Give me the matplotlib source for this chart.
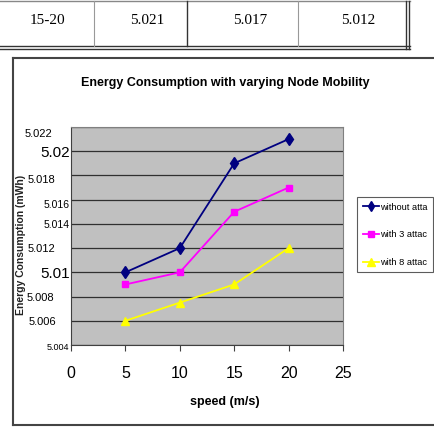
import matplotlib
matplotlib.use("Agg")
import matplotlib.pyplot as plt
from matplotlib.lines import Line2D
from matplotlib.transforms import ScaledTranslation
from matplotlib import font_manager

names = {f.name for f in font_manager.fontManager.ttflist}
NARROW = ['Liberation Sans Narrow', 'Liberation Sans', 'DejaVu Sans'] if 'Liberation Sans Narrow' in names else ['Liberation Sans', 'DejaVu Sans']
SERIF = ['Liberation Serif', 'DejaVu Serif']

# ---- data ----
speeds = [5, 10, 15, 20]
without_attack = [5.010, 5.012, 5.019, 5.021]
with_3_attack = [5.009, 5.010, 5.015, 5.017]
with_8_attack = [5.006, 5.0075, 5.009, 5.012]
series_labels = ["without atta", "with 3 attac", "with 8 attac"]
table_row = ["15-20", "5.021", "5.017", "5.012"]
x_ticks = [0, 5, 10, 15, 20, 25]
y_ticks = [5.004, 5.006, 5.008, 5.010, 5.012, 5.014, 5.016, 5.018, 5.020, 5.022]
y_tick_labels = ["5.004", "5.006", "5.008", "5.01", "5.012", "5.014", "5.016", "5.018", "5.02", "5.022"]

W, H = 434, 428
fig = plt.figure(figsize=(W / 100, H / 100), dpi=100)
fig.patch.set_facecolor('white')

def fx(x): return x / W
def fy(y): return 1 - y / H

def hline(x0, x1, y, lw=1.0, c='#555555'):
    fig.add_artist(Line2D([fx(x0), fx(x1)], [fy(y), fy(y)], transform=fig.transFigure, lw=lw, color=c))

def vline(x, y0, y1, lw=1.0, c='#555555'):
    fig.add_artist(Line2D([fx(x), fx(x)], [fy(y0), fy(y1)], transform=fig.transFigure, lw=lw, color=c))

# ---- table row at top ----
hline(0, 410, 1, lw=1.0, c='#888888')
hline(0, 410, 46, lw=1.0, c='#333333')
hline(0, 410, 49, lw=1.0, c='#333333')
for xv in [94, 298]:
    vline(xv, 1, 46, lw=0.8, c='#999999')
vline(187, 1, 46, lw=1.0, c='#333333')
vline(406, 1, 49, lw=1.0, c='#333333')
vline(409, 1, 49, lw=1.0, c='#333333')
for txt, cx in zip(table_row, [47, 147, 250, 358]):
    fig.text(fx(cx), fy(21), txt, ha='center', va='center', fontsize=11, family=SERIF)

# ---- chart frame ----
vline(13, 58, 425, lw=1.5, c='#444444')
hline(13, 434, 58, lw=1.5, c='#444444')
hline(13, 434, 425, lw=1.5, c='#444444')

# ---- axes ----
ax = fig.add_axes([fx(71), fy(345), fx(343) - fx(71), fy(127) - fy(345)])
ax.set_facecolor('#C0C0C0')
ax.set_xlim(0, 25)
ax.set_ylim(5.004, 5.022)
ax.set_yticks(y_ticks)
ax.set_yticklabels(y_tick_labels)
ax.set_xticks(x_ticks)
ax.set_xticklabels([str(t) for t in x_ticks], fontsize=11.5, family=NARROW)
ax.yaxis.grid(True, color='#303030', lw=0.9)
ax.set_axisbelow(True)
for s in ['top', 'right']:
    ax.spines[s].set_color('#808080')
for s in ['left', 'bottom']:
    ax.spines[s].set_color('#404040')
ax.tick_params(axis='y', length=0, pad=1)
ax.tick_params(axis='x', length=4, color='#404040', pad=11)

sizes = {"5.02": 11, "5.01": 11, "5.004": 6.5, "5.016": 7.5, "5.014": 7.5}
# (dx, dy) in pixels; dy positive = downward
shifts = {"5.022": (-17, 6), "5.018": (-14, 4), "5.016": (0, 4), "5.012": (-14, 0),
          "5.008": (-15, 0), "5.006": (-13, 0), "5.004": (0, 2), "5.02": (0, 0), "5.01": (0, 0)}
for lab in ax.get_yticklabels():
    t = lab.get_text()
    lab.set_fontsize(sizes.get(t, 8))
    lab.set_family(NARROW)
    dx, dy = shifts.get(t, (0, 0))
    lab.set_transform(lab.get_transform() + ScaledTranslation(dx / 100, -dy / 100, fig.dpi_scale_trans))

l1, = ax.plot(speeds, without_attack, color='#000080', lw=1.3, marker='d', ms=6)
l2, = ax.plot(speeds, with_3_attack, color='#FF00FF', lw=1.3, marker='s', ms=5)
l3, = ax.plot(speeds, with_8_attack, color='#FFFF00', lw=1.3, marker='^', ms=6)

fig.text(fx(225), fy(83), "Energy Consumption with varying Node Mobility", ha='center', va='center',
         fontsize=9, fontweight='bold', family=NARROW)
fig.text(fx(225), fy(402), "speed (m/s)", ha='center', va='center', fontsize=9, fontweight='bold', family=NARROW)
fig.text(fx(21), fy(245), "Energy Consumption (mWh)", ha='center', va='center', rotation=90,
         fontsize=7.5, fontweight='bold', family=NARROW, color='#222222')

leg = fig.legend([l1, l2, l3], series_labels, loc='upper left',
                 bbox_to_anchor=(fx(357), fy(197)), bbox_transform=fig.transFigure,
                 frameon=True, fancybox=False, prop={'family': NARROW, 'size': 6.7},
                 handlelength=1.8, handletextpad=0.1, labelspacing=2.0, borderpad=0.6, borderaxespad=0,
                 markerscale=0.9)
leg.get_frame().set_edgecolor('#333333')
leg.get_frame().set_linewidth(0.8)

fig.savefig("out.png", dpi=100)
